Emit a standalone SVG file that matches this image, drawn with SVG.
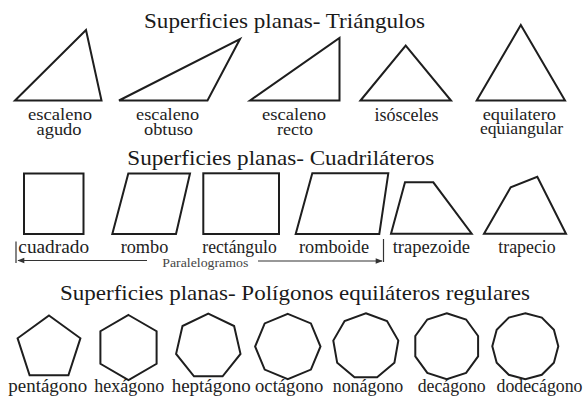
<svg xmlns="http://www.w3.org/2000/svg" width="587" height="400" viewBox="0 0 587 400">
<defs>
<style>
.s{fill:none;stroke:#1e1e1e;stroke-width:2;stroke-linejoin:miter}
.t{font-family:"Liberation Serif","Times New Roman",serif;fill:#222;text-anchor:middle}
.h{font-size:21px;fill:#1a1a1a}
.l{font-size:19px}
.m{font-size:17px}
.p{font-size:13px;fill:#444}
.c{stroke:#333;stroke-width:1.2;fill:none}
</style>
<marker id="ah" viewBox="0 0 10 10" refX="9" refY="5" markerWidth="9" markerHeight="7" markerUnits="userSpaceOnUse" orient="auto">
<path d="M0,1 L10,5 L0,9 z" fill="#333"/>
</marker>
</defs>
<rect width="587" height="400" fill="#fff"/>

<text class="t h" x="284.5" y="27.5" textLength="281" lengthAdjust="spacingAndGlyphs">Superficies planas- Triángulos</text>
<text class="t h" x="280.8" y="164.5" textLength="307" lengthAdjust="spacingAndGlyphs">Superficies planas- Cuadriláteros</text>
<text class="t h" x="295" y="300" textLength="470" lengthAdjust="spacingAndGlyphs">Superficies planas- Polígonos equiláteros regulares</text>

<g id="tri-agudo"><polygon class="s" points="15,100.5 86,30 101.5,100.5"/>
<text class="t m" x="60" y="120" textLength="64" lengthAdjust="spacingAndGlyphs">escaleno</text>
<text class="t m" x="59" y="134.5" textLength="45" lengthAdjust="spacingAndGlyphs">agudo</text></g>
<g id="tri-obtuso"><polygon class="s" points="119,100.5 240,39 207.5,100.5"/>
<text class="t m" x="167.6" y="120" textLength="63" lengthAdjust="spacingAndGlyphs">escaleno</text>
<text class="t m" x="168.5" y="134.5" textLength="49" lengthAdjust="spacingAndGlyphs">obtuso</text></g>
<g id="tri-recto"><polygon class="s" points="250,100.5 339.5,38 339.5,100.5"/>
<text class="t m" x="294" y="120" textLength="64" lengthAdjust="spacingAndGlyphs">escaleno</text>
<text class="t m" x="295" y="134.5" textLength="36" lengthAdjust="spacingAndGlyphs">recto</text></g>
<g id="tri-isosceles"><polygon class="s" points="360.5,100.5 405.7,45.5 451,100.5"/>
<text class="t l" x="406.4" y="121" textLength="64" lengthAdjust="spacingAndGlyphs">isósceles</text></g>
<g id="tri-equilatero"><polygon class="s" points="476.7,100.5 520.8,25 565,100.5"/>
<text class="t m" x="519.3" y="120" textLength="73.3" lengthAdjust="spacingAndGlyphs">equilatero</text>
<text class="t m" x="521.6" y="134" textLength="83.3" lengthAdjust="spacingAndGlyphs">equiangular</text></g>

<g id="cuadrado"><rect class="s" x="24" y="173.5" width="59.5" height="60.5"/>
<text class="t l" x="53.7" y="252.5" textLength="70.7" lengthAdjust="spacingAndGlyphs">cuadrado</text></g>
<g id="rombo"><polygon class="s" points="128.3,173.5 190,173.5 176,234 112.3,234"/>
<text class="t l" x="144.5" y="252.5" textLength="47.6" lengthAdjust="spacingAndGlyphs">rombo</text></g>
<g id="rectangulo"><rect class="s" x="203.3" y="173.3" width="75.7" height="60.7"/>
<text class="t l" x="239.5" y="252.5" textLength="74.4" lengthAdjust="spacingAndGlyphs">rectángulo</text></g>
<g id="romboide"><polygon class="s" points="312.3,173.3 388.3,173.3 379.3,234 295.7,234"/>
<text class="t l" x="334" y="252.5" textLength="70" lengthAdjust="spacingAndGlyphs">romboide</text></g>
<g id="trapezoide"><polygon class="s" points="405,182.3 433.3,182.3 471.7,233.7 391,233.7"/>
<text class="t l" x="431.3" y="252.5" textLength="77.3" lengthAdjust="spacingAndGlyphs">trapezoide</text></g>
<g id="trapecio"><polygon class="s" points="484,233.7 510.7,187.3 537.3,176.7 566,233.7"/>
<text class="t l" x="527" y="252.5" textLength="57.4" lengthAdjust="spacingAndGlyphs">trapecio</text></g>

<g id="paralelogramos">
<text class="t p" x="205.3" y="266.5" textLength="86" lengthAdjust="spacingAndGlyphs">Paralelogramos</text>
</g>
<g id="connectors">
<line class="c" x1="16" y1="241.5" x2="16" y2="263"/>
<line class="c" x1="383.5" y1="239" x2="383.5" y2="262"/>
<line class="c" x1="147" y1="260.5" x2="18" y2="260.5" marker-end="url(#ah)"/>
<line class="c" x1="258" y1="261" x2="382" y2="261" marker-end="url(#ah)"/>
</g>

<g id="pentagono"><polygon class="s" points="49,315.5 80.4,338.3 68.4,375.2 29.6,375.2 17.6,338.3"/>
<text class="t l" x="47.8" y="392" textLength="79" lengthAdjust="spacingAndGlyphs">pentágono</text></g>
<g id="hexagono"><polygon class="s" points="128.5,315 156.6,331.25 156.6,363.75 128.5,380 100.4,363.75 100.4,331.25"/>
<text class="t l" x="129.3" y="392" textLength="70" lengthAdjust="spacingAndGlyphs">hexágono</text></g>
<g id="heptagono"><polygon class="s" points="208.3,313.6 234.1,326 240.5,353.9 222.6,376.3 194,376.3 176.1,353.9 182.5,326"/>
<text class="t l" x="211.2" y="392" textLength="79" lengthAdjust="spacingAndGlyphs">heptágono</text></g>
<g id="octagono"><polygon class="s" points="287.8,313.8 310.9,323.4 320.5,346.5 310.9,369.6 287.8,379.2 264.7,369.6 255.1,346.5 264.7,323.4"/>
<text class="t l" x="289.2" y="392" textLength="68.3" lengthAdjust="spacingAndGlyphs">octágono</text></g>
<g id="nonagono"><polygon class="s" points="365.8,313.3 387,321 398.3,340.6 394.4,362.8 377.1,377.3 354.5,377.3 337.2,362.8 333.3,340.6 344.6,321"/>
<text class="t l" x="368" y="392" textLength="70.6" lengthAdjust="spacingAndGlyphs">nonágono</text></g>
<g id="decagono"><polygon class="s" points="446.7,313.2 466.1,319.5 478.1,336 478.1,356.4 466.1,372.9 446.7,379.2 427.3,372.9 415.3,356.4 415.3,336 427.3,319.5"/>
<text class="t l" x="451.7" y="392" textLength="68" lengthAdjust="spacingAndGlyphs">decágono</text></g>
<g id="dodecagono"><polygon class="s" points="525.3,313.2 541.8,317.6 553.9,329.7 558.3,346.2 553.9,362.7 541.8,374.8 525.3,379.2 508.8,374.8 496.7,362.7 492.3,346.2 496.7,329.7 508.8,317.6"/>
<text class="t l" x="539.5" y="392" textLength="86" lengthAdjust="spacingAndGlyphs">dodecágono</text></g>
</svg>
